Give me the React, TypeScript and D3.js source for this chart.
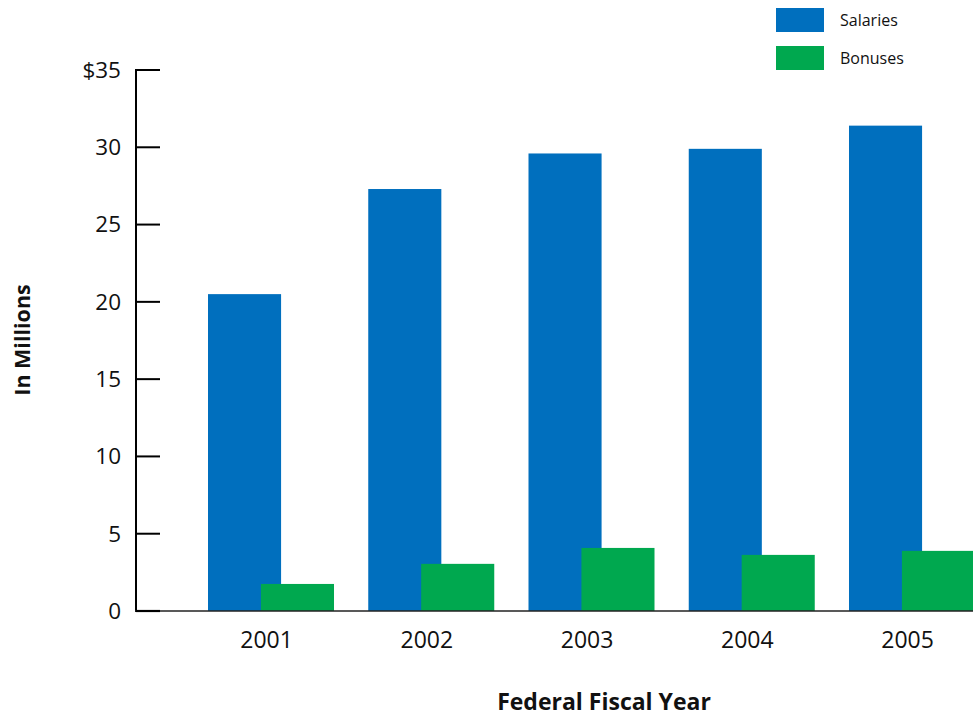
import React from "react";
import * as d3 from "d3";

const years = ["2001", "2002", "2003", "2004", "2005"];
const salaries = [20.5, 27.3, 29.6, 29.9, 31.4];
const bonuses = [1.75, 3.05, 4.08, 3.63, 3.89];
const yTicks = [0, 5, 10, 15, 20, 25, 30, 35];
const seriesNames = ["Salaries", "Bonuses"];

const BLUE = "#006FBE";
const GREEN = "#00A84F";
const FONT = "'Open Sans', 'DejaVu Sans', sans-serif";

export default function App() {
  const width = 973;
  const height = 717;
  const axisX = 136;

  const x = d3
    .scaleBand<string>()
    .domain(years)
    .range([208, 975])
    .paddingInner(0.2137)
    .paddingOuter(0);
  const bw = x.bandwidth();
  const y = d3.scaleLinear().domain([0, 35]).range([611, 70]);

  const colors = [BLUE, GREEN];

  return (
    <svg
      width={width}
      height={height}
      style={{ position: "absolute", left: 0, top: 0, background: "#fff" }}
      fontFamily={FONT}
    >
      {/* bars: salaries behind, bonuses overlapping to the right */}
      {years.map((yr, i) => (
        <g key={yr}>
          <rect
            x={x(yr)!}
            y={y(salaries[i])}
            width={bw * 0.58}
            height={y(0) - y(salaries[i])}
            fill={BLUE}
          />
          <rect
            x={x(yr)! + bw * 0.42}
            y={y(bonuses[i])}
            width={bw * 0.58}
            height={y(0) - y(bonuses[i])}
            fill={GREEN}
          />
        </g>
      ))}

      {/* y axis */}
      <line x1={axisX} x2={axisX} y1={y(35) - 1} y2={y(0) + 1} stroke="#000" strokeWidth={2} />
      {yTicks.map((t) => (
        <g key={t}>
          {t > 0 && (
            <line x1={axisX} x2={160} y1={y(t)} y2={y(t)} stroke="#000" strokeWidth={2} />
          )}
          <text
            x={121}
            y={y(t)}
            dy="0.35em"
            textAnchor="end"
            fontSize={22.5}
            fill="#111"
          >
            {t === 35 ? `$${t}` : t}
          </text>
        </g>
      ))}
      {/* baseline */}
      <line x1={axisX - 1} x2={width} y1={y(0)} y2={y(0)} stroke="#222" strokeWidth={1.6} />
      <line x1={axisX} x2={160} y1={y(0)} y2={y(0)} stroke="#000" strokeWidth={2.2} />

      {/* category labels */}
      {years.map((yr) => (
        <text
          key={yr}
          x={x(yr)! + bw * 0.465}
          y={648}
          textAnchor="middle"
          fontSize={23}
          fill="#111"
        >
          {yr}
        </text>
      ))}

      {/* axis titles */}
      <text
        x={604}
        y={710}
        textAnchor="middle"
        fontSize={23}
        fontWeight="bold"
        fill="#111"
      >
        Federal Fiscal Year
      </text>
      <text
        transform={`translate(30,${340}) rotate(-90)`}
        textAnchor="middle"
        fontSize={21.5}
        fontWeight="bold"
        fill="#111"
      >
        In Millions
      </text>

      {/* legend */}
      {seriesNames.map((name, i) => (
        <g key={name} transform={`translate(776,${8 + i * 38})`}>
          <rect width={48} height={24} fill={colors[i]} />
          <text x={64} y={12} dy="0.35em" fontSize={16} fill="#111">
            {name}
          </text>
        </g>
      ))}
    </svg>
  );
}
